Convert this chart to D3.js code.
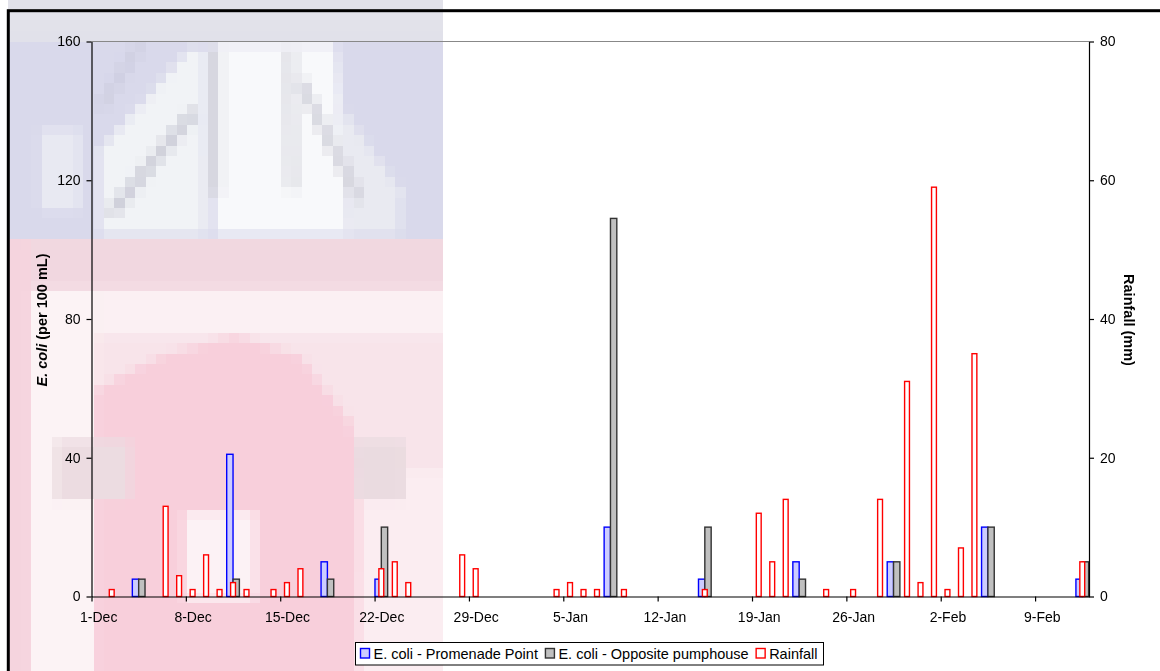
<!DOCTYPE html>
<html>
<head>
<meta charset="utf-8">
<script src="https://cdn.jsdelivr.net/npm/d3@7"></script>
<style>
  html, body { margin: 0; padding: 0; background: #ffffff; }
  #wrap { position: relative; width: 1160px; height: 671px; }
  #photo, #chart { position: absolute; left: 0; top: 0; }
  svg { display: block; font-family: "Liberation Sans", Arial, sans-serif; }
</style>
</head>
<body>
<div id="wrap">
  <canvas id="photo" width="1160" height="671"></canvas>
  <svg id="chart" width="1160" height="671"></svg>
</div>
<script>
// Sampling period: daily categories from 1-Dec to 12-Feb
const firstDay = "1-Dec-2008";
const lastDay = "12-Feb-2009";

// E. coli counts (per 100 mL), Promenade Point
const promenadePoint = [
  ["4-Dec", 5], ["11-Dec", 41], ["18-Dec", 10], ["22-Dec", 5], ["8-Jan", 20],
  ["15-Jan", 5], ["22-Jan", 10], ["29-Jan", 10], ["5-Feb", 20], ["12-Feb", 5]
];

// E. coli counts (per 100 mL), opposite the pumphouse
const oppositePumphouse = [
  ["4-Dec", 5], ["11-Dec", 5], ["18-Dec", 5], ["22-Dec", 20], ["8-Jan", 109],
  ["15-Jan", 20], ["22-Jan", 5], ["29-Jan", 10], ["5-Feb", 20], ["12-Feb", 10]
];

// Daily rainfall (mm)
const rainfall = [
  ["2-Dec", 1], ["6-Dec", 13], ["7-Dec", 3], ["8-Dec", 1], ["9-Dec", 6],
  ["10-Dec", 1], ["11-Dec", 2], ["12-Dec", 1], ["14-Dec", 1], ["15-Dec", 2],
  ["16-Dec", 4], ["22-Dec", 4], ["23-Dec", 5], ["24-Dec", 2], ["28-Dec", 6],
  ["29-Dec", 4], ["4-Jan", 1], ["5-Jan", 2], ["6-Jan", 1], ["7-Jan", 1],
  ["9-Jan", 1], ["15-Jan", 1], ["19-Jan", 12], ["20-Jan", 5], ["21-Jan", 14],
  ["24-Jan", 1], ["26-Jan", 1], ["28-Jan", 14], ["30-Jan", 31], ["31-Jan", 2],
  ["1-Feb", 59], ["2-Feb", 1], ["3-Feb", 7], ["4-Feb", 35], ["12-Feb", 5]
];

// Axis ticks
const ecoliTicks = [0, 40, 80, 120, 160];
const rainTicks = [0, 20, 40, 60, 80];
const tickEveryDays = 7;

const seriesNames = ["E. coli - Promenade Point", "E. coli - Opposite pumphouse", "Rainfall"];

const W = 1160, H = 671;
const plot = { left: 91.5, right: 1089, top: 41.5, bottom: 596.5 };

// ---- faded, coarse-grained photo behind the left part of the chart ----
(function drawPhoto() {
  const cell = 10.4;                       // size of one coarse pixel
  const lo = document.createElement("canvas");
  lo.width = Math.ceil(W / cell); lo.height = Math.ceil(H / cell);
  const c = lo.getContext("2d");
  c.scale(1 / cell, 1 / cell);
  const box = (x0, y0, x1, y1, fill) => { c.fillStyle = fill; c.fillRect(x0, y0, x1 - x0, y1 - y0); };
  const poly = (pts, fill) => {
    c.fillStyle = fill; c.beginPath();
    pts.forEach((p, i) => i ? c.lineTo(p[0], p[1]) : c.moveTo(p[0], p[1]));
    c.closePath(); c.fill();
  };
  const beam = (x1, y1, x2, y2, col, w) => {
    c.strokeStyle = col; c.lineWidth = w; c.beginPath(); c.moveTo(x1, y1); c.lineTo(x2, y2); c.stroke();
  };
  // sky and upper structure
  box(0, 0, 460, 240, "#d9d9eb");
  box(0, 0, 460, 40, "#e2e2ea");
  poly([[100, 235], [100, 150], [190, 50], [205, 50], [205, 235]], "#f1f3f6");
  poly([[215, 45], [335, 45], [350, 235], [215, 235]], "#f8f9fb");
  poly([[335, 100], [400, 190], [400, 235], [350, 235]], "#e9eaf1");
  poly([[40, 130], [80, 130], [80, 210], [40, 210]], "#e8e9f2");
  beam(110, 215, 195, 110, "#cfd0da", 11);
  beam(215, 50, 215, 195, "#d3d3dc", 10);
  beam(290, 50, 292, 190, "#d8d8e0", 10);
  beam(300, 80, 360, 200, "#d6d6de", 11);
  beam(140, 45, 100, 110, "#d0d0e2", 11);
  // pink building below
  box(0, 240, 460, 680, "#f8e4ea");
  box(0, 240, 460, 290, "#f1d7e0");
  box(95, 290, 460, 335, "#fbf0f3");
  box(30, 290, 95, 680, "#fcf3f5");
  box(0, 240, 30, 680, "#f5d4de");
  poly([[95, 440], [95, 390], [160, 355], [235, 335], [300, 355], [350, 420], [362, 470], [360, 680], [95, 680]], "#f8cfdb");
  box(360, 470, 460, 680, "#fbedf1");
  box(185, 512, 255, 600, "#fcf2f5");
  box(55, 440, 130, 500, "#ecdce1");
  box(355, 440, 405, 500, "#eadbe0");

  const ctx = document.getElementById("photo").getContext("2d");
  ctx.save();
  ctx.beginPath(); ctx.rect(8, 0, 435, H); ctx.clip();
  ctx.imageSmoothingEnabled = false;
  ctx.drawImage(lo, 0, 0, lo.width * cell, lo.height * cell);
  ctx.restore();
})();

const svg = d3.select("#chart");

const parseFull = d3.timeParse("%d-%b-%Y");
const fmtDay = d3.timeFormat("%-d-%b");
const start = parseFull(firstDay);
const endExclusive = d3.timeDay.offset(parseFull(lastDay), 1);
const days = d3.timeDay.range(start, endExclusive);
const dayByKey = new Map(days.map(d => [fmtDay(d), d]));

const x = d3.scaleTime().domain([start, endExclusive]).range([plot.left, plot.right]);
const dayW = (plot.right - plot.left) / days.length;
const yE = d3.scaleLinear().domain([0, 160]).range([plot.bottom, plot.top]);
const yR = d3.scaleLinear().domain([0, 80]).range([plot.bottom, plot.top]);

// ---- plot frame lines ----
svg.append("line").attr("x1", plot.left).attr("x2", plot.right).attr("y1", plot.top).attr("y2", plot.top)
  .attr("stroke", "#888888").attr("stroke-width", 1.2);

// ---- bars ----
const lookup = arr => arr.map(([k, v]) => ({ date: dayByKey.get(k), value: v }));
const pp = lookup(promenadePoint);
const op = lookup(oppositePumphouse);
const rf = lookup(rainfall);

const half = dayW / 2;
svg.append("g").selectAll("rect").data(pp).join("rect")
  .attr("x", d => x(d.date) + 0.4)
  .attr("width", half - 0.4)
  .attr("y", d => yE(d.value))
  .attr("height", d => yE(0) - yE(d.value))
  .attr("fill", "#ccccff").attr("stroke", "#0000ff").attr("stroke-width", 1.4);

svg.append("g").selectAll("rect").data(op).join("rect")
  .attr("x", d => x(d.date) + half)
  .attr("width", half - 0.4)
  .attr("y", d => yE(d.value))
  .attr("height", d => yE(0) - yE(d.value))
  .attr("fill", "#c0c0c0").attr("stroke", "#333333").attr("stroke-width", 1.4);

const rainW = dayW * 0.36;
svg.append("g").selectAll("rect").data(rf).join("rect")
  .attr("x", d => x(d.date) + half - rainW / 2)
  .attr("width", rainW)
  .attr("y", d => yR(d.value))
  .attr("height", d => yR(0) - yR(d.value))
  .attr("fill", "#ffffff").attr("stroke", "#ff0000").attr("stroke-width", 1.4);

// ---- axes ----
const styleAxis = g => {
  g.select(".domain").attr("stroke", "#000").attr("stroke-width", 1.2);
  g.selectAll(".tick line").attr("stroke", "#000").attr("stroke-width", 1.2);
  g.selectAll(".tick text").attr("fill", "#000").attr("font-size", 14)
    .attr("font-family", '"Liberation Sans", Arial, sans-serif');
};

svg.append("g").attr("transform", `translate(${plot.left},0)`)
  .call(d3.axisLeft(yE).tickValues(ecoliTicks).tickSize(5).tickSizeOuter(0).tickPadding(6))
  .call(styleAxis);

svg.append("g").attr("transform", `translate(${plot.right},0)`)
  .call(d3.axisRight(yR).tickValues(rainTicks).tickSize(5).tickSizeOuter(0).tickPadding(6))
  .call(styleAxis);

const weekTicks = days.filter((d, i) => i % tickEveryDays === 0);
const xAxis = svg.append("g").attr("transform", `translate(0,${plot.bottom})`)
  .call(d3.axisBottom(x).tickValues(weekTicks).tickFormat(fmtDay).tickSize(5).tickSizeOuter(0).tickPadding(11))
  .call(styleAxis);
xAxis.selectAll(".tick text").attr("dx", half);

// ---- axis titles ----
const leftTitle = svg.append("text")
  .attr("transform", `translate(47,${(plot.top + plot.bottom) / 2 + 1}) rotate(-90)`)
  .attr("text-anchor", "middle").attr("font-size", 14.5).attr("font-weight", "bold");
leftTitle.append("tspan").attr("font-style", "italic").text("E. coli");
leftTitle.append("tspan").text(" (per 100 mL)");

svg.append("text")
  .attr("transform", `translate(1124,${(plot.top + plot.bottom) / 2 + 1}) rotate(90)`)
  .attr("text-anchor", "middle").attr("font-size", 14.5).attr("font-weight", "bold")
  .text("Rainfall (mm)");

// ---- legend ----
const legend = svg.append("g");
const legendBox = legend.append("rect").attr("y", 642.5).attr("height", 22.5)
  .attr("fill", "#ffffff").attr("stroke", "#000").attr("stroke-width", 1);
const swatchStyles = [
  { fill: "#ccccff", stroke: "#0000ff" },
  { fill: "#c0c0c0", stroke: "#333333" },
  { fill: "#ffffff", stroke: "#ff0000" }
];
const legendLeft = 355.5;
let lx = legendLeft + 5;
seriesNames.forEach((name, i) => {
  legend.append("rect").attr("x", lx).attr("y", 648.5).attr("width", 9).attr("height", 9.5)
    .attr("fill", swatchStyles[i].fill).attr("stroke", swatchStyles[i].stroke).attr("stroke-width", 1.4);
  const t = legend.append("text").attr("x", lx + 13).attr("y", 658.5)
    .attr("font-size", 14.5).text(name);
  lx = lx + 13 + t.node().getComputedTextLength() + 7.5;
});
legendBox.attr("x", legendLeft).attr("width", lx - 7.5 + 6 - legendLeft);

// ---- chart area border ----
svg.append("rect").attr("x", 8.3).attr("y", 10.7).attr("width", 1300).attr("height", 800)
  .attr("fill", "none").attr("stroke", "#000").attr("stroke-width", 3);
</script>
</body>
</html>
